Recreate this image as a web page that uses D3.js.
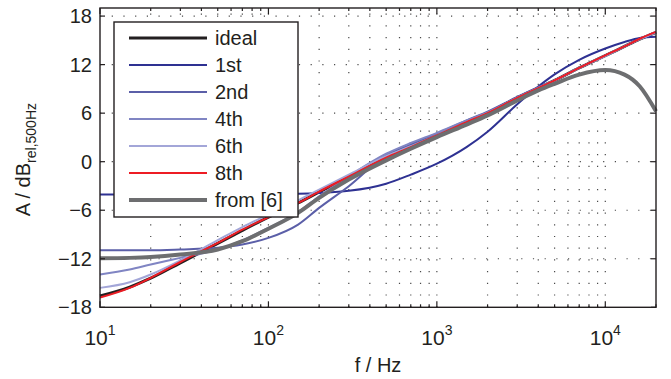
<!DOCTYPE html>
<html>
<head>
<meta charset="utf-8">
<script src="https://cdn.jsdelivr.net/npm/d3@7"></script>
<style>
  html, body { margin: 0; padding: 0; background: #fff; }
  svg { display: block; font-family: 'Liberation Sans', Arial, sans-serif; }
</style>
</head>
<body>
<div id="chart"></div>
<script>
// frequency grid (Hz) shared by all curves
const freqHz = [10, 15, 20, 30, 50, 70, 100, 150, 200, 300, 500, 700, 1000, 1500, 2000, 3000, 4000, 5000, 7000, 10000, 13000, 16000, 20000]

// magnitudes in dB rel. 500 Hz
const ideal = [-16.6, -15.5, -14.4, -12.5, -10.1, -8.5, -6.85, -5.1, -3.75, -1.9, 0.47, 1.8, 3.25, 4.9, 6.0, 7.9, 9.1, 10.05, 11.6, 13.1, 14.25, 15.15, 16.0]
const order1 = [-4.06, -4.06, -4.06, -4.06, -4.06, -4.04, -4.01, -3.96, -3.86, -3.6, -2.72, -1.6, -0.25, 1.8, 3.7, 7.1, 9.3, 10.8, 12.6, 14.0, 14.8, 15.3, 15.45]
const order2 = [-10.96, -10.96, -10.96, -10.86, -10.65, -10.24, -9.42, -7.77, -5.71, -3.03, 0.78, 2.12, 3.46, 5.1, 6.2, 8.0, 9.2, 10.05, 11.6, 13.1, 14.25, 15.15, 16.0]
const order4 = [-13.95, -13.33, -12.71, -11.89, -10.86, -9.73, -8.18, -6.23, -4.27, -1.8, 0.98, 2.32, 3.56, 5.1, 6.1, 7.9, 9.1, 10.05, 11.6, 13.1, 14.25, 15.15, 16.0]
const order6 = [-15.6, -14.9, -13.95, -12.2, -9.7, -8.08, -6.53, -4.78, -3.44, -1.59, 0.68, 1.91, 3.25, 4.9, 6.0, 7.9, 9.1, 10.05, 11.6, 13.1, 14.25, 15.15, 16.0]
const order8 = [-16.8, -15.6, -14.35, -12.4, -10.05, -8.4, -6.85, -5.1, -3.7, -1.85, 0.5, 1.8, 3.25, 4.9, 6.0, 7.9, 9.1, 10.05, 11.6, 13.15, 14.25, 15.2, 16.05]
const fromRef6 = [-11.94, -11.89, -11.79, -11.48, -10.86, -9.83, -8.29, -6.33, -4.47, -2.21, 0.16, 1.6, 3.04, 4.59, 5.72, 7.57, 8.81, 9.63, 10.77, 11.33, 10.77, 9.33, 6.24]

const seriesNames = ['ideal', '1st', '2nd', '4th', '6th', '8th', 'from [6]']
const seriesValues = [ideal, order1, order2, order4, order6, order8, fromRef6]
const seriesColors = ['#231f20', '#2e3192', '#5b5fa8', '#8085c3', '#a3a6d8', '#ed1c24', '#6d6e70']
const seriesWidths = [3, 2, 2, 2, 2, 2, 4]

const yTicks = [-18, -12, -6, 0, 6, 12, 18]
const xMajor = [10, 100, 1000, 10000]

const W = 671
const H = 379
const plot = { left: 100, right: 656, top: 8, bottom: 307.3 }
const axisColor = '#231f20'

const svg = d3.select('#chart').append('svg').attr('width', W).attr('height', H)

const x = d3.scaleLog().domain([10, 20000]).range([plot.left, plot.right])
const y = d3.scaleLinear().domain([-18, 19]).range([plot.bottom, plot.top])

// minor ticks: 2..9 in each decade, up to the right edge
const xMinor = []
for (let d = 10; d < 20000; d *= 10) {
  for (let k = 2; k <= 9; k++) {
    if (d * k <= 20000) xMinor.push(d * k)
  }
}

// dotted grid
const grid = svg.append('g').attr('class', 'grid')
grid.selectAll('.vgrid')
  .data(xMajor.concat(xMinor).filter(f => f > 10 && f < 20000))
  .enter().append('line')
  .attr('x1', f => x(f)).attr('x2', f => x(f))
  .attr('y1', plot.bottom).attr('y2', plot.top)
  .attr('stroke', '#4a4a4a').attr('stroke-width', 1.2)
  .attr('stroke-dasharray', '1.2,10.5')
grid.selectAll('.hgrid')
  .data(yTicks.filter(v => v > -18))
  .enter().append('line')
  .attr('x1', plot.left).attr('x2', plot.right)
  .attr('y1', v => y(v)).attr('y2', v => y(v))
  .attr('stroke', '#4a4a4a').attr('stroke-width', 1.2)
  .attr('stroke-dasharray', '1.2,10.5')

// curves
const line = d3.line()
  .x(d => x(d[0]))
  .y(d => y(d[1]))
  .curve(d3.curveMonotoneX)

const curves = svg.append('g').attr('class', 'curves')
seriesValues.forEach((vals, i) => {
  curves.append('path')
    .datum(freqHz.map((f, j) => [f, vals[j]]))
    .attr('d', line)
    .attr('fill', 'none')
    .attr('stroke', seriesColors[i])
    .attr('stroke-width', seriesWidths[i])
    .attr('stroke-linejoin', 'round')
})

// box + inward ticks
const frame = svg.append('g').attr('class', 'frame')
frame.append('rect')
  .attr('x', plot.left).attr('y', plot.top)
  .attr('width', plot.right - plot.left).attr('height', plot.bottom - plot.top)
  .attr('fill', 'none').attr('stroke', axisColor).attr('stroke-width', 1.4)

const tickLines = []
yTicks.forEach(v => {
  tickLines.push([plot.left, y(v), plot.left + 5, y(v)])
  tickLines.push([plot.right, y(v), plot.right - 5, y(v)])
})
xMajor.forEach(f => {
  tickLines.push([x(f), plot.bottom, x(f), plot.bottom - 6])
  tickLines.push([x(f), plot.top, x(f), plot.top + 6])
})
xMinor.forEach(f => {
  tickLines.push([x(f), plot.bottom, x(f), plot.bottom - 3])
  tickLines.push([x(f), plot.top, x(f), plot.top + 3])
})
frame.selectAll('.tick')
  .data(tickLines)
  .enter().append('line')
  .attr('x1', d => d[0]).attr('y1', d => d[1])
  .attr('x2', d => d[2]).attr('y2', d => d[3])
  .attr('stroke', axisColor).attr('stroke-width', 1.2)

// tick labels
svg.append('g').selectAll('text')
  .data(yTicks)
  .enter().append('text')
  .attr('x', 92).attr('y', v => y(v) + 7)
  .attr('text-anchor', 'end')
  .attr('font-size', 20)
  .attr('fill', axisColor)
  .text(v => (v < 0 ? '\u2212' + Math.abs(v) : String(v)))

const xl = svg.append('g').selectAll('text')
  .data(xMajor)
  .enter().append('text')
  .attr('x', f => x(f)).attr('y', 345)
  .attr('text-anchor', 'middle')
  .attr('font-size', 21)
  .attr('fill', axisColor)
xl.append('tspan').text('10')
xl.append('tspan').attr('font-size', 14).attr('dy', -10).text(f => Math.round(Math.log10(f)))

// axis titles
svg.append('text')
  .attr('x', (plot.left + plot.right) / 2).attr('y', 372)
  .attr('text-anchor', 'middle')
  .attr('font-size', 20)
  .attr('fill', axisColor)
  .text('f / Hz')

const yt = svg.append('text')
  .attr('transform', `translate(30,${(plot.top + plot.bottom) / 2 + 2}) rotate(-90)`)
  .attr('text-anchor', 'middle')
  .attr('font-size', 20)
  .attr('fill', axisColor)
yt.append('tspan').text('A / dB')
yt.append('tspan').attr('font-size', 14).attr('dy', 6).text('rel,500Hz')

// legend
const legend = svg.append('g').attr('class', 'legend')
legend.append('rect')
  .attr('x', 114).attr('y', 22).attr('width', 184).attr('height', 195)
  .attr('fill', '#fff').attr('stroke', axisColor).attr('stroke-width', 1.4)
seriesNames.forEach((name, i) => {
  const ly = 38 + i * 27
  legend.append('line')
    .attr('x1', 129).attr('x2', 207).attr('y1', ly).attr('y2', ly)
    .attr('stroke', seriesColors[i]).attr('stroke-width', seriesWidths[i])
  legend.append('text')
    .attr('x', 215).attr('y', ly + 7)
    .attr('font-size', 20)
    .attr('fill', axisColor)
    .text(name)
})
</script>
</body>
</html>
